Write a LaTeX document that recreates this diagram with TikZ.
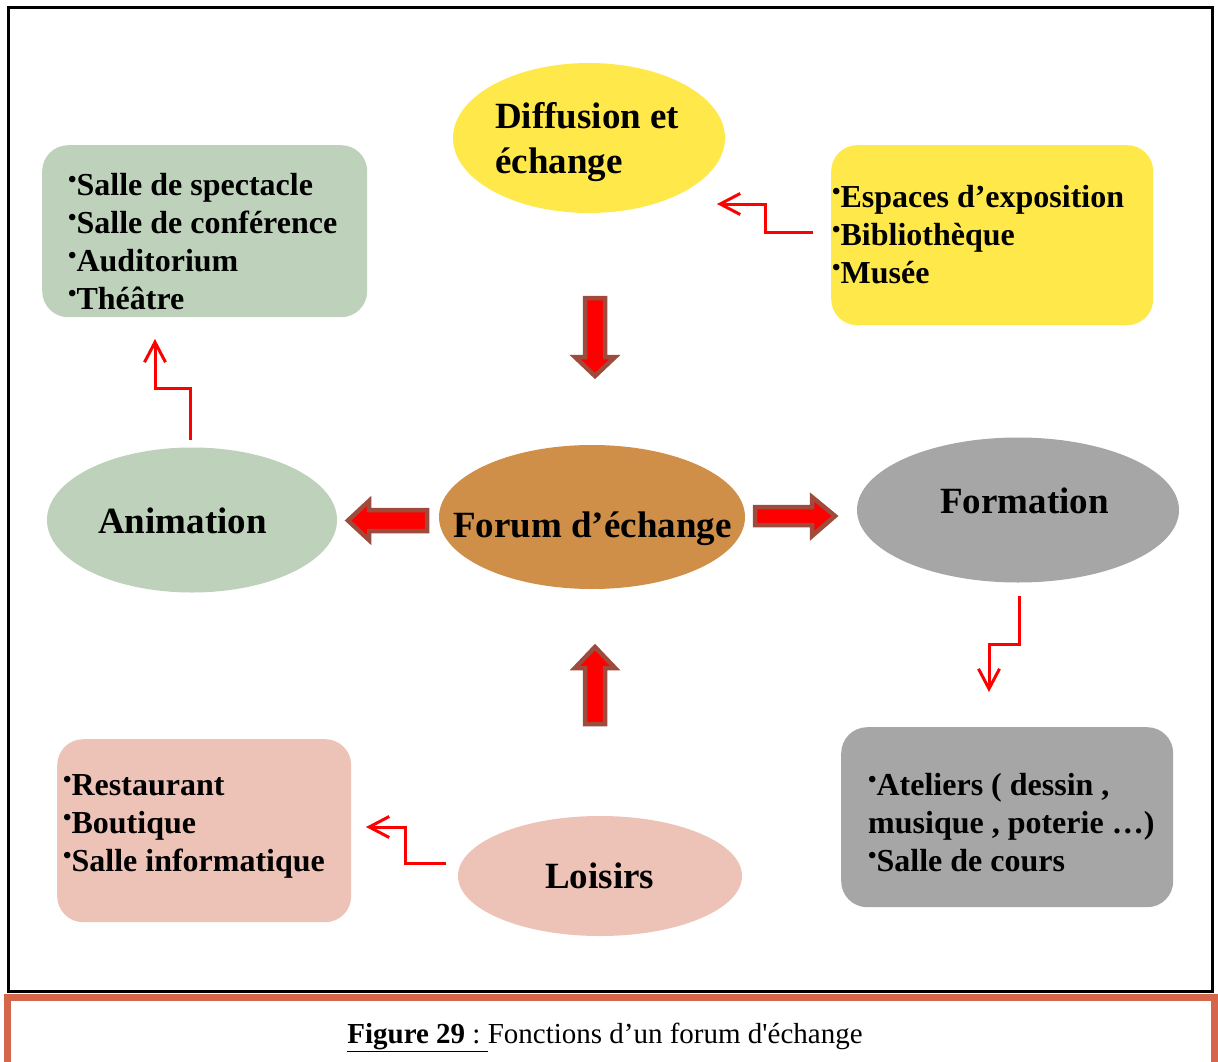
\documentclass[tikz,border=0pt]{standalone}
\usepackage{fontspec}
\setmainfont{Liberation Serif}[Ligatures=TeXOff]
\usetikzlibrary{arrows.meta,shapes.geometric}
\definecolor{cyel}{HTML}{FFE84A}
\definecolor{cgreen}{HTML}{BED2BB}
\definecolor{cforum}{HTML}{CF8F48}
\definecolor{cgray}{HTML}{A6A6A6}
\definecolor{cpink}{HTML}{EDC3B7}
\definecolor{cblock}{HTML}{9E4A3C}
\definecolor{ccap}{HTML}{D5654B}
\newcommand\bul{\raisebox{0.22em}{\fontsize{24}{24}\selectfont •}}
\begin{document}
\begin{tikzpicture}[x=1pt,y=-1pt,
  roundbox/.style={rounded corners=26pt, inner sep=0pt, anchor=north west},
  oval/.style={ellipse, inner sep=0pt},
  bigtxt/.style={font=\fontsize{37}{44}\selectfont\bfseries, inner sep=0pt, anchor=base west, align=left},
  listtxt/.style={font=\fontsize{32}{38}\selectfont\bfseries, inner sep=0pt, anchor=base west, align=left},
  blockarr/.style={fill=red, draw=cblock, line width=4.5pt, line join=miter},
  thinarr/.style={draw=red, line width=3pt, -{Straight Barb[length=20pt,width=21pt]}}]
\useasboundingbox (0,0) rectangle (1218,1062);
\fill[white] (0,0) rectangle (1218,1062);
% frames
\draw[line width=3.5pt] (8.5,7.5) rectangle (1212.5,991.5);
\draw[ccap, line width=7pt] (7.5,997) rectangle (1214.5,1070);
% boxes
\node[roundbox, fill=cgreen, minimum width=325pt, minimum height=172pt] (gbox) at (42,145) {};
\node[roundbox, fill=cyel, minimum width=322pt, minimum height=180pt] (ybox) at (831,145) {};
\node[roundbox, fill=cgray, minimum width=332pt, minimum height=180pt] (graybox) at (841,727) {};
\node[roundbox, fill=cpink, minimum width=294pt, minimum height=183pt] (pbox) at (57,739) {};
% ellipses
\node[oval, fill=cyel, minimum width=272pt, minimum height=150pt] (diff) at (589,138) {};
\node[oval, fill=cgreen, minimum width=290pt, minimum height=145pt] (anim) at (192,520) {};
\node[oval, fill=cforum, minimum width=306pt, minimum height=144pt] (forum) at (592,517) {};
\node[oval, fill=cgray, minimum width=322pt, minimum height=145pt] (form) at (1018,510) {};
\node[oval, fill=cpink, minimum width=284pt, minimum height=120pt] (lois) at (600,876) {};
% ellipse texts (base = baseline of last line)
\node[bigtxt] (tdiff) at (495,173) {Diffusion et\\échange};
\node[bigtxt] (tanim) at (98,533) {Animation};
\node[bigtxt] (tforum) at (453,537) {Forum d’échange};
\node[bigtxt] (tform) at (940,513) {Formation};
\node[bigtxt] (tlois) at (545,888) {Loisirs};
% box texts
\node[listtxt] (tg) at (68,309) {\bul Salle de spectacle\\\bul Salle de conférence\\\bul Auditorium\\\bul Théâtre};
\node[listtxt] (ty) at (832,283) {\bul Espaces d’exposition\\\bul Bibliothèque\\\bul Musée};
\node[listtxt] (tgr) at (868,871) {\bul Ateliers ( dessin ,\\musique , poterie …)\\\bul Salle de cours};
\node[listtxt] (tp) at (63,871) {\bul Restaurant\\\bul Boutique\\\bul Salle informatique};
% block arrows
\draw[blockarr] (585,298) -- (605,298) -- (605,357) -- (615,357) -- (595,376) -- (575,357) -- (585,357) -- cycle;
\draw[blockarr] (427,510) -- (369,510) -- (369,501) -- (348,520.5) -- (369,540) -- (369,531) -- (427,531) -- cycle;
\draw[blockarr] (755,507) -- (812,507) -- (812,497) -- (835,516) -- (812,536) -- (812,525) -- (755,525) -- cycle;
\draw[blockarr] (585,724) -- (605,724) -- (605,668) -- (615,668) -- (595,647) -- (575,668) -- (585,668) -- cycle;
% thin elbow arrows
\coordinate (ya) at (813,232); \coordinate (yb) at (717,204);
\draw[thinarr] (ya) -- (765,232) -- (765,204) -- (yb);
\coordinate (aa) at (190,440); \coordinate (ab) at (155,339);
\draw[thinarr] (aa) -- (190,388) -- (155,388) -- (ab);
\coordinate (fa) at (1019,596); \coordinate (fb) at (989,692);
\draw[thinarr] (fa) -- (1019,644) -- (989,644) -- (fb);
\coordinate (la) at (446,863); \coordinate (lb) at (366,827);
\draw[thinarr] (la) -- (405,863) -- (405,827) -- (lb);
% caption
\node[font=\fontsize{29}{34}\selectfont, inner sep=0pt, anchor=base] (cap) at (605,1043) {\underline{\textbf{Figure 29} :\ }Fonctions d’un forum d'échange};
\end{tikzpicture}
\end{document}
